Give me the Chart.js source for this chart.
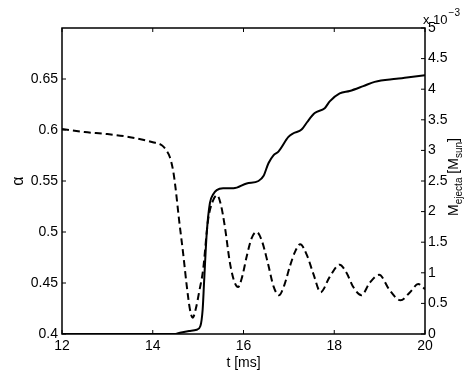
<!DOCTYPE html>
<html>
<head>
<meta charset="utf-8">
<script src="https://cdn.jsdelivr.net/npm/chart.js@4/dist/chart.umd.min.js"></script>
<style>html, body { margin: 0; padding: 0; background: #fff; }</style>
</head>
<body>
<canvas id="c" width="469" height="376"></canvas>
<script>
// alpha (left axis, dashed)
var alphaTime = [12.0, 12.5, 13.0, 13.5, 14.0, 14.2, 14.3, 14.38, 14.45, 14.5, 14.58, 14.67, 14.75, 14.82, 14.88, 14.95, 15.03, 15.11, 15.22, 15.33, 15.42, 15.5, 15.59, 15.7, 15.8, 15.88, 15.97, 16.07, 16.18, 16.29, 16.4, 16.54, 16.66, 16.78, 16.9, 17.02, 17.14, 17.25, 17.4, 17.54, 17.7, 17.9, 18.12, 18.27, 18.42, 18.6, 18.78, 18.99, 19.22, 19.46, 19.67, 19.85, 20.0];
var alphaVals = [0.601, 0.598, 0.596, 0.593, 0.588, 0.585, 0.58, 0.573, 0.56, 0.544, 0.512, 0.479, 0.447, 0.424, 0.416, 0.425, 0.443, 0.463, 0.512, 0.531, 0.536, 0.527, 0.505, 0.47, 0.451, 0.446, 0.456, 0.476, 0.494, 0.5, 0.492, 0.469, 0.447, 0.438, 0.448, 0.466, 0.481, 0.488, 0.477, 0.459, 0.441, 0.456, 0.468, 0.46, 0.446, 0.438, 0.45, 0.458, 0.443, 0.433, 0.441, 0.449, 0.444];
// M_ejecta in units of 1e-3 M_sun (right axis, solid)
var massTime = [12.0, 14.5, 14.6, 14.8, 14.97, 15.05, 15.1, 15.13, 15.19, 15.26, 15.33, 15.41, 15.55, 15.78, 16.07, 16.33, 16.44, 16.55, 16.66, 16.77, 16.99, 17.1, 17.28, 17.4, 17.57, 17.79, 17.9, 18.12, 18.34, 18.64, 18.89, 19.37, 19.6, 20.0];
var massVals = [0, 0, 0.02, 0.05, 0.07, 0.13, 0.4, 0.83, 1.65, 2.14, 2.28, 2.35, 2.38, 2.38, 2.46, 2.5, 2.58, 2.79, 2.92, 2.98, 3.22, 3.28, 3.34, 3.46, 3.61, 3.69, 3.8, 3.93, 3.97, 4.05, 4.12, 4.17, 4.19, 4.23];

var xTicks = [12, 14, 16, 18, 20];
var alphaTicks = [0.4, 0.45, 0.5, 0.55, 0.6, 0.65];
var massTicks = [0, 0.5, 1, 1.5, 2, 2.5, 3, 3.5, 4, 4.5, 5];

var FONT = '"Liberation Sans", Arial, sans-serif';
Chart.defaults.font.family = FONT;
Chart.defaults.font.size = 14;
Chart.defaults.color = '#000';

function pts(xs, ys) { return xs.map(function (x, i) { return { x: x, y: ys[i] }; }); }

function line(ctx, x1, y1, x2, y2) { ctx.beginPath(); ctx.moveTo(x1, y1); ctx.lineTo(x2, y2); ctx.stroke(); }

var framePlugin = {
  id: 'frame',
  afterDraw: function (chart) {
    var a = chart.chartArea, ctx = chart.ctx;
    var sx = chart.scales.x, sl = chart.scales.yL, sr = chart.scales.yR;
    ctx.save();
    ctx.strokeStyle = '#000';
    ctx.lineWidth = 1;
    sx.ticks.forEach(function (t) {
      var p = sx.getPixelForValue(t.value);
      line(ctx, p, a.bottom, p, a.bottom - 4);
      line(ctx, p, a.top, p, a.top + 4);
    });
    sl.ticks.forEach(function (t) { var p = sl.getPixelForValue(t.value); line(ctx, a.left, p, a.left + 4, p); });
    sr.ticks.forEach(function (t) { var p = sr.getPixelForValue(t.value); line(ctx, a.right, p, a.right - 4, p); });
    ctx.lineWidth = 1.5;
    ctx.strokeRect(a.left, a.top, a.right - a.left, a.bottom - a.top);

    // exponent label
    ctx.fillStyle = '#000';
    ctx.textBaseline = 'alphabetic';
    ctx.textAlign = 'left';
    ctx.font = '13px ' + FONT;
    ctx.fillText('x 10', a.right - 2, 24);
    var w = ctx.measureText('x 10').width;
    ctx.font = '10px ' + FONT;
    ctx.fillText('\u22123', a.right - 1 + w, 16);

    // right axis title with subscripts
    var segs = [['M', 14, 0], ['ejecta', 10, 4], [' [M', 14, 0], ['sun', 10, 4], [']', 14, 0]];
    var total = 0;
    segs.forEach(function (s) { ctx.font = s[1] + 'px ' + FONT; s.push(ctx.measureText(s[0]).width); total += s[3]; });
    ctx.translate(458, (a.top + a.bottom) / 2 - 4);
    ctx.rotate(-Math.PI / 2);
    var x = -total / 2;
    segs.forEach(function (s) {
      ctx.font = s[1] + 'px ' + FONT;
      ctx.fillText(s[0], x, s[2]);
      x += s[3];
    });
    ctx.restore();
  }
};

new Chart(document.getElementById('c').getContext('2d'), {
  type: 'line',
  data: {
    datasets: [
      {
        label: 'alpha',
        data: pts(alphaTime, alphaVals),
        yAxisID: 'yL',
        borderColor: '#000',
        borderWidth: 2,
        borderDash: [7, 4],
        pointRadius: 0,
        cubicInterpolationMode: 'monotone',
        fill: false
      },
      {
        label: 'M_ejecta',
        data: pts(massTime, massVals),
        yAxisID: 'yR',
        borderColor: '#000',
        borderWidth: 2,
        pointRadius: 0,
        cubicInterpolationMode: 'monotone',
        fill: false
      }
    ]
  },
  options: {
    responsive: false,
    animation: false,
    devicePixelRatio: 1,
    layout: { padding: { top: 28, left: 0, right: 0, bottom: 0 } },
    plugins: { legend: { display: false }, tooltip: { enabled: false } },
    scales: {
      x: {
        type: 'linear', min: 12, max: 20,
        afterBuildTicks: function (s) { s.ticks = xTicks.map(function (v) { return { value: v }; }); },
        afterFit: function (s) { s.height = 42; },
        grid: { display: false, drawTicks: false },
        border: { display: false },
        ticks: { padding: 4, maxRotation: 0 },
        title: { display: true, text: 't [ms]', font: { size: 14 }, padding: { top: 0, bottom: 4 } }
      },
      yL: {
        type: 'linear', position: 'left', min: 0.4, max: 0.7,
        afterBuildTicks: function (s) { s.ticks = alphaTicks.map(function (v) { return { value: v }; }); },
        afterFit: function (s) { s.width = 62; },
        grid: { display: false, drawTicks: false },
        border: { display: false },
        ticks: { padding: 4, callback: function (v) { return String(v); } },
        title: { display: true, text: '\u03b1', font: { size: 16 }, padding: { top: 9, bottom: 0 } }
      },
      yR: {
        type: 'linear', position: 'right', min: 0, max: 5,
        afterBuildTicks: function (s) { s.ticks = massTicks.map(function (v) { return { value: v }; }); },
        afterFit: function (s) { s.width = 44; },
        grid: { display: false, drawTicks: false },
        border: { display: false },
        ticks: { padding: 3, callback: function (v) { return String(v); } }
      }
    }
  },
  plugins: [framePlugin]
});
</script>
</body>
</html>
